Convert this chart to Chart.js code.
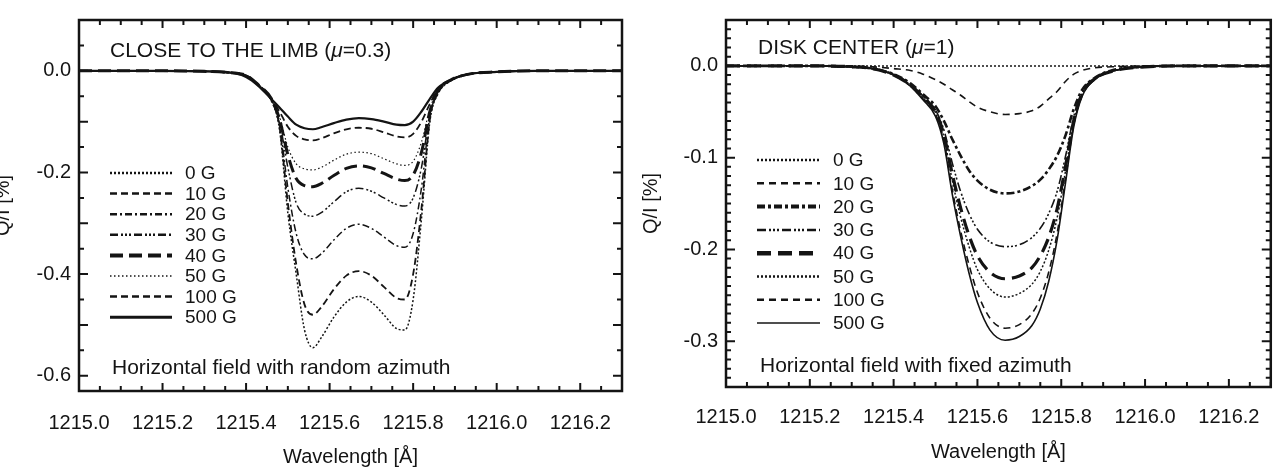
<!DOCTYPE html>
<html>
<head>
<meta charset="utf-8">
<script src="https://cdn.jsdelivr.net/npm/chart.js@4.4.0/dist/chart.umd.min.js"></script>
<style>
  html, body { margin: 0; padding: 0; background: #fff; }
  #wrap { position: relative; width: 1278px; height: 469px; overflow: hidden; }
  .panel { position: absolute; top: 0; height: 469px; }
  #limb { left: 0; width: 640px; }
  #center { left: 640px; width: 638px; }
</style>
</head>
<body>
<div id="wrap">
  <div class="panel" id="limb"><canvas id="limbChart" width="640" height="469"></canvas></div>
  <div class="panel" id="center"><canvas id="centerChart" width="638" height="469"></canvas></div>
</div>
<script>
// ---- data ----
const fieldLabels = ['0 G', '10 G', '20 G', '30 G', '40 G', '50 G', '100 G', '500 G'];
const xTickValues = [1215.0, 1215.2, 1215.4, 1215.6, 1215.8, 1216.0, 1216.2];
const limbYTicks = [-0.6, -0.4, -0.2, 0.0];
const centerYTicks = [-0.3, -0.2, -0.1, 0.0];

// close to the limb (mu = 0.3), random azimuth
const limbWave = [1215.00, 1215.20, 1215.30, 1215.35, 1215.40, 1215.43, 1215.46, 1215.48, 1215.50, 1215.52,
                  1215.54, 1215.56, 1215.58, 1215.61, 1215.64, 1215.67, 1215.70, 1215.73, 1215.76, 1215.78,
                  1215.80, 1215.82, 1215.84, 1215.86, 1215.89, 1215.93, 1216.00, 1216.10, 1216.30];
const limb0G   = [0, 0, -0.001, -0.003, -0.009, -0.028, -0.058, -0.115, -0.28, -0.40, -0.51, -0.545, -0.525, -0.485, -0.455, -0.444, -0.455, -0.48, -0.507, -0.51, -0.45, -0.29, -0.10, -0.045, -0.02, -0.007, -0.002, 0, 0];
const limb10G  = [0, 0, -0.001, -0.003, -0.009, -0.028, -0.057, -0.11, -0.26, -0.38, -0.46, -0.48, -0.465, -0.43, -0.403, -0.394, -0.403, -0.425, -0.447, -0.45, -0.40, -0.27, -0.095, -0.043, -0.019, -0.007, -0.002, 0, 0];
const limb20G  = [0, 0, -0.001, -0.003, -0.009, -0.028, -0.056, -0.105, -0.23, -0.32, -0.362, -0.37, -0.36, -0.333, -0.31, -0.302, -0.31, -0.327, -0.344, -0.347, -0.32, -0.23, -0.09, -0.042, -0.019, -0.007, -0.002, 0, 0];
const limb30G  = [0, 0, -0.001, -0.003, -0.009, -0.028, -0.055, -0.10, -0.19, -0.26, -0.282, -0.286, -0.279, -0.258, -0.238, -0.231, -0.237, -0.25, -0.263, -0.266, -0.25, -0.19, -0.085, -0.04, -0.018, -0.007, -0.002, 0, 0];
const limb40G  = [0, 0, -0.001, -0.003, -0.009, -0.028, -0.054, -0.095, -0.165, -0.212, -0.226, -0.228, -0.222, -0.206, -0.192, -0.187, -0.191, -0.202, -0.213, -0.216, -0.205, -0.16, -0.08, -0.038, -0.018, -0.007, -0.002, 0, 0];
const limb50G  = [0, 0, -0.001, -0.003, -0.009, -0.028, -0.054, -0.09, -0.15, -0.183, -0.193, -0.195, -0.19, -0.176, -0.164, -0.16, -0.163, -0.173, -0.183, -0.186, -0.178, -0.14, -0.075, -0.037, -0.018, -0.007, -0.002, 0, 0];
const limb100G = [0, 0, -0.001, -0.003, -0.01, -0.029, -0.055, -0.08, -0.11, -0.128, -0.135, -0.137, -0.133, -0.123, -0.115, -0.112, -0.114, -0.121, -0.129, -0.131, -0.124, -0.10, -0.065, -0.035, -0.018, -0.007, -0.002, 0, 0];
const limb500G = [0, 0, -0.001, -0.002, -0.012, -0.03, -0.055, -0.072, -0.09, -0.106, -0.113, -0.115, -0.111, -0.103, -0.096, -0.093, -0.095, -0.10, -0.106, -0.107, -0.10, -0.08, -0.055, -0.033, -0.018, -0.007, -0.002, 0, 0];

// disk center (mu = 1), fixed azimuth
const centerWave = [1215.00, 1215.20, 1215.30, 1215.35, 1215.40, 1215.44, 1215.47, 1215.50, 1215.52, 1215.54,
                    1215.56, 1215.58, 1215.60, 1215.63, 1215.666, 1215.70, 1215.73, 1215.75, 1215.77, 1215.79,
                    1215.81, 1215.83, 1215.85, 1215.88, 1215.92, 1216.00, 1216.10, 1216.30];
const center0G   = [0, 0, 0, 0, 0, 0, 0, 0, 0, 0, 0, 0, 0, 0, 0, 0, 0, 0, 0, 0, 0, 0, 0, 0, 0, 0, 0, 0];
const center10G  = [0, 0, 0, -0.001, -0.003, -0.005, -0.009, -0.015, -0.02, -0.026, -0.032, -0.039, -0.045, -0.05, -0.053, -0.052, -0.049, -0.044, -0.036, -0.028, -0.017, -0.009, -0.005, -0.002, -0.001, 0, 0, 0];
const center20G  = [0, 0, -0.001, -0.003, -0.009, -0.019, -0.031, -0.044, -0.06, -0.08, -0.098, -0.114, -0.125, -0.135, -0.139, -0.137, -0.131, -0.124, -0.113, -0.098, -0.076, -0.047, -0.026, -0.013, -0.005, -0.001, 0, 0];
const center30G  = [0, 0, -0.001, -0.003, -0.009, -0.02, -0.033, -0.048, -0.07, -0.106, -0.137, -0.161, -0.178, -0.192, -0.197, -0.195, -0.187, -0.177, -0.161, -0.137, -0.099, -0.055, -0.029, -0.014, -0.006, -0.001, 0, 0];
const center40G  = [0, 0, -0.001, -0.003, -0.01, -0.021, -0.034, -0.05, -0.075, -0.118, -0.155, -0.185, -0.207, -0.225, -0.232, -0.229, -0.22, -0.207, -0.187, -0.156, -0.11, -0.059, -0.03, -0.014, -0.006, -0.001, 0, 0];
const center50G  = [0, 0, -0.001, -0.003, -0.01, -0.021, -0.035, -0.051, -0.078, -0.125, -0.165, -0.197, -0.222, -0.243, -0.252, -0.248, -0.238, -0.224, -0.201, -0.166, -0.115, -0.061, -0.031, -0.014, -0.006, -0.001, 0, 0];
const center100G = [0, 0, -0.001, -0.003, -0.01, -0.022, -0.036, -0.053, -0.082, -0.135, -0.18, -0.217, -0.247, -0.275, -0.286, -0.282, -0.27, -0.253, -0.225, -0.183, -0.124, -0.064, -0.032, -0.015, -0.006, -0.001, 0, 0];
const center500G = [0, 0, -0.001, -0.003, -0.01, -0.022, -0.037, -0.055, -0.085, -0.14, -0.186, -0.226, -0.258, -0.288, -0.299, -0.295, -0.283, -0.265, -0.235, -0.19, -0.128, -0.066, -0.033, -0.015, -0.006, -0.001, 0, 0];

// ---- line styles (IDL-like linestyles) ----
const limbStyles = [
  { dash: [2, 2], width: 1.5, legendWidth: 2.5 },
  { dash: [7, 4], width: 1.8, legendWidth: 2.5 },
  { dash: [7, 3, 2, 3], width: 1.5, legendWidth: 2.5 },
  { dash: [8, 3, 2, 2, 2, 2, 2, 3], width: 1.5, legendWidth: 2.5 },
  { dash: [13, 6], width: 3, legendWidth: 4 },
  { dash: [1.5, 2.5], width: 1.2, legendWidth: 1.5 },
  { dash: [7, 4], width: 1.8, legendWidth: 2.5 },
  { dash: [], width: 2.2, legendWidth: 3 }
];
const centerStyles = [
  { dash: [2, 2], width: 1.5, legendWidth: 2.5 },
  { dash: [7, 5], width: 1.6, legendWidth: 2.5 },
  { dash: [8, 3, 3, 3], width: 2.6, legendWidth: 4 },
  { dash: [9, 3, 2, 2, 2, 2, 2, 3], width: 1.6, legendWidth: 2.5 },
  { dash: [14, 7], width: 3.2, legendWidth: 4.5 },
  { dash: [2, 2], width: 1.5, legendWidth: 2.5 },
  { dash: [7, 5], width: 1.6, legendWidth: 2.5 },
  { dash: [], width: 1.6, legendWidth: 1.5 }
];

const INK = '#141414';
const FONT = '"Liberation Sans", Arial, Helvetica, sans-serif';

function buildDatasets(wave, series, styles) {
  return series.map((vals, i) => ({
    label: fieldLabels[i],
    data: wave.map((w, j) => ({ x: w, y: vals[j] })),
    borderColor: INK,
    borderWidth: styles[i].width,
    borderDash: styles[i].dash,
    legendWidth: styles[i].legendWidth,
    pointRadius: 0,
    fill: false,
    cubicInterpolationMode: 'monotone'
  }));
}

// draws the inward ticks on all four sides, the frame, the annotations and the legend
function decorPlugin(cfg) {
  return {
    id: 'decor',
    afterDatasetsDraw(chart) {
      const ctx = chart.ctx;
      const a = chart.chartArea;
      const x = chart.scales.x, y = chart.scales.y;
      ctx.save();
      ctx.strokeStyle = INK;
      ctx.setLineDash([]);
      ctx.lineWidth = 2;

      function isMajor(v, step) {
        const r = v / step;
        return Math.abs(r - Math.round(r)) < 1e-6;
      }
      // x ticks
      const nx = Math.round((x.max - x.min) / cfg.xMinor);
      for (let i = 0; i <= nx; i++) {
        const v = x.min + i * cfg.xMinor;
        const px = x.getPixelForValue(v);
        const len = isMajor(v, cfg.xMajor) ? 8 : 5;
        ctx.beginPath();
        ctx.moveTo(px, a.bottom); ctx.lineTo(px, a.bottom - len);
        ctx.moveTo(px, a.top); ctx.lineTo(px, a.top + len);
        ctx.stroke();
      }
      // y ticks
      const start = Math.ceil(y.min / cfg.yMinor - 1e-6);
      const end = Math.floor(y.max / cfg.yMinor + 1e-6);
      for (let k = start; k <= end; k++) {
        const v = k * cfg.yMinor;
        const py = y.getPixelForValue(v);
        const len = isMajor(v, cfg.yMajor) ? 9 : 5;
        ctx.beginPath();
        ctx.moveTo(a.left, py); ctx.lineTo(a.left + len, py);
        ctx.moveTo(a.right, py); ctx.lineTo(a.right - len, py);
        ctx.stroke();
      }
      // frame
      ctx.lineWidth = 2.5;
      ctx.strokeRect(a.left, a.top, a.right - a.left, a.bottom - a.top);

      // annotations
      ctx.fillStyle = INK;
      ctx.textBaseline = 'alphabetic';
      ctx.textAlign = 'left';
      let tx = a.left + cfg.textDx;
      const parts = cfg.titleParts;
      parts.forEach(p => {
        ctx.font = (p.italic ? 'italic ' : '') + cfg.textSize + 'px ' + FONT;
        ctx.fillText(p.text, tx, a.top + cfg.titleDy);
        tx += ctx.measureText(p.text).width;
      });
      ctx.font = cfg.textSize + 'px ' + FONT;
      ctx.fillText(cfg.note, a.left + cfg.textDx + 2, a.bottom - cfg.noteDy);

      // legend
      ctx.font = cfg.legendSize + 'px ' + FONT;
      ctx.textBaseline = 'middle';
      chart.data.datasets.forEach((ds, i) => {
        const ly = a.top + cfg.legendTop + i * cfg.legendStep;
        ctx.lineWidth = ds.legendWidth;
        ctx.setLineDash(ds.borderDash);
        ctx.beginPath();
        ctx.moveTo(a.left + cfg.legendX0, ly);
        ctx.lineTo(a.left + cfg.legendX1, ly);
        ctx.stroke();
        ctx.setLineDash([]);
        ctx.fillText(ds.label, a.left + cfg.legendTextX, ly + 1);
      });
      ctx.restore();
    }
  };
}

function makeChart(canvasId, opts) {
  return new Chart(document.getElementById(canvasId), {
    type: 'line',
    data: { datasets: opts.datasets },
    options: {
      responsive: false,
      devicePixelRatio: 1,
      animation: false,
      layout: { padding: opts.padding },
      plugins: { legend: { display: false }, tooltip: { enabled: false } },
      elements: { line: { tension: 0 } },
      scales: {
        x: {
          type: 'linear',
          min: 1215.0,
          max: 1216.3,
          afterBuildTicks: s => { s.ticks = xTickValues.map(v => ({ value: v })); },
          afterFit: s => { s.height = opts.xAxisHeight; },
          grid: { display: false, drawTicks: false },
          border: { display: false },
          ticks: {
            autoSkip: false, maxRotation: 0, padding: opts.xTickPad,
            color: INK, font: { family: FONT, size: 20 },
            callback: v => Number(v).toFixed(1)
          },
          title: {
            display: true, text: 'Wavelength [Å]', color: INK,
            font: { family: FONT, size: 20 }, padding: { top: 0, bottom: opts.xTitlePad }
          }
        },
        y: {
          type: 'linear',
          min: opts.yMin,
          max: opts.yMax,
          afterBuildTicks: s => { s.ticks = opts.yTicks.map(v => ({ value: v })); },
          afterFit: s => { s.width = opts.yAxisWidth; },
          grid: { display: false, drawTicks: false },
          border: { display: false },
          ticks: {
            autoSkip: false, padding: 8,
            color: INK, font: { family: FONT, size: 20 },
            callback: v => Number(v).toFixed(1)
          },
          title: {
            display: true, text: 'Q/I [%]', color: INK,
            font: { family: FONT, size: 20 }, padding: { top: opts.yTitlePad, bottom: 0 }
          }
        }
      }
    },
    plugins: [decorPlugin(opts.decor)]
  });
}

document.addEventListener('DOMContentLoaded', function () {
  makeChart('limbChart', {
    datasets: buildDatasets(limbWave, [limb0G, limb10G, limb20G, limb30G, limb40G, limb50G, limb100G, limb500G], limbStyles),
    padding: { left: 0, top: 16, right: 18, bottom: 0 },
    xAxisHeight: 78, yAxisWidth: 79, xTickPad: 20, xTitlePad: 0, yTitlePad: -9,
    yMin: -0.63, yMax: 0.1, yTicks: limbYTicks,
    decor: {
      xMinor: 0.05, xMajor: 0.2, yMinor: 0.05, yMajor: 0.1,
      textDx: 31, titleDy: 37, noteDy: 17, textSize: 21,
      titleParts: [{ text: 'CLOSE TO THE LIMB (' }, { text: 'μ', italic: true }, { text: '=0.3)' }],
      note: 'Horizontal field with random azimuth',
      legendSize: 19, legendTop: 153, legendStep: 20.6, legendX0: 31, legendX1: 93, legendTextX: 106
    }
  });

  makeChart('centerChart', {
    datasets: buildDatasets(centerWave, [center0G, center10G, center20G, center30G, center40G, center50G, center100G, center500G], centerStyles),
    padding: { left: 0, top: 13, right: 7, bottom: 0 },
    xAxisHeight: 82, yAxisWidth: 86, xTickPad: 18, xTitlePad: 5, yTitlePad: -1,
    yMin: -0.35, yMax: 0.05, yTicks: centerYTicks,
    decor: {
      xMinor: 0.05, xMajor: 0.2, yMinor: 0.01, yMajor: 0.1,
      textDx: 32, titleDy: 34, noteDy: 15, textSize: 21,
      titleParts: [{ text: 'DISK CENTER (' }, { text: 'μ', italic: true }, { text: '=1)' }],
      note: 'Horizontal field with fixed azimuth',
      legendSize: 19, legendTop: 140, legendStep: 23.3, legendX0: 31, legendX1: 94, legendTextX: 107
    }
  });
});
</script>
</body>
</html>
